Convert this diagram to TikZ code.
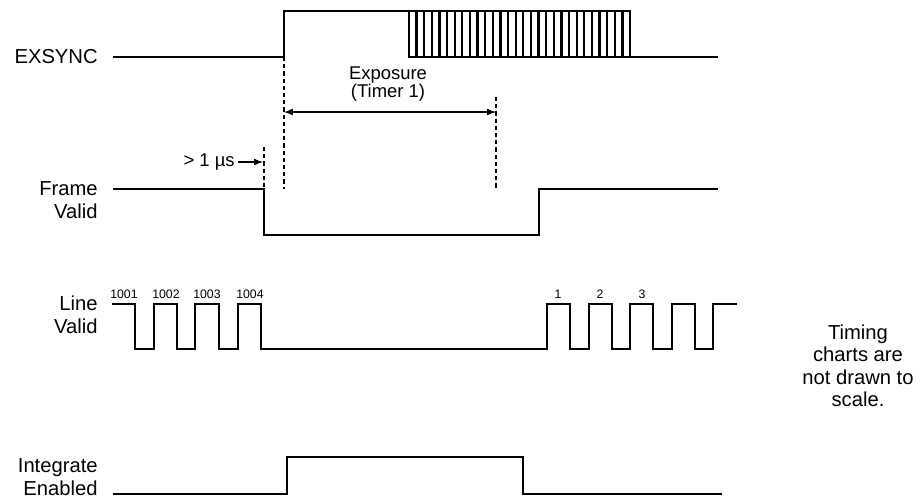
\documentclass[tikz,border=0pt]{standalone}
\usepackage{fontspec}
\setmainfont{Liberation Sans}
\usepackage{tikz}
\usetikzlibrary{arrows.meta, positioning, calc}

\begin{document}
\begin{tikzpicture}[
    x=0.02cm, y=-0.02cm,
    every node/.style={font=\fontsize{11.5}{12.8}\selectfont, inner sep=0pt},
    sig/.style={line width=1.3pt, line join=miter},
    guide/.style={line width=0.6pt, dash pattern=on 2.4pt off 1.7pt},
    dim/.style={line width=0.6pt, -{Latex[length=5pt, width=3.8pt]}},
    dimboth/.style={line width=0.6pt, {Latex[length=5pt, width=3.8pt]}-{Latex[length=5pt, width=3.8pt]}},
    siglabel/.style={anchor=east, align=right},
    pulsenum/.style={font=\fontsize{7}{8}\selectfont, anchor=south},
    note/.style={font=\fontsize{10.5}{9.8}\selectfont, align=center}
]
\useasboundingbox (0,0) rectangle (920,498);

% Signal names
\node[siglabel] (exsync) at (98,57) {EXSYNC};
\node[siglabel] (fval) at (98,200) {Frame\\Valid};
\node[siglabel] (lval) at (98,315) {Line\\Valid};
\node[siglabel] (inten) at (98,477) {Integrate\\Enabled};
\node[align=center] (scale) at (858,366) {Timing\\charts are\\not drawn to\\scale.};

% EXSYNC
\draw[sig] (113,57) -- (284,57) -- (284,11) -- (630,11) -- (630,57) -- (718,57);
\draw[sig] (409,11) -- (409,57) -- (630,57);
\foreach \i in {1,...,28}
    \draw[sig] ({409+\i*221/29},11) -- ++(0,46);

% Frame Valid
\draw[sig] (113,189) -- (264,189) -- (264,235) -- (539,235) -- (539,189) -- (718,189);

% Line Valid
\draw[sig] (112,304) -- (135,304) -- (135,349) -- (154,349) -- (154,304) -- (177,304)
    -- (177,349) -- (195,349) -- (195,304) -- (219,304) -- (219,349) -- (238,349)
    -- (238,304) -- (261,304) -- (261,349) -- (547,349) -- (547,304) -- (570,304)
    -- (570,349) -- (589,349) -- (589,304) -- (612,304) -- (612,349) -- (630,349)
    -- (630,304) -- (653,304) -- (653,349) -- (672,349) -- (672,304) -- (695,304)
    -- (695,349) -- (713,349) -- (713,304) -- (737,304);
\foreach \x/\t in {124/1001, 166/1002, 207/1003, 250/1004, 558/1, 600/2, 642/3}
    \node[pulsenum] (n\t) at (\x,299) {\t};

% Integrate Enabled
\draw[sig] (113,494) -- (287,494) -- (287,457) -- (523,457) -- (523,494) -- (722,494);

% Timing marks
\coordinate (exA) at (284,57);
\coordinate (exB) at (284,189);
\coordinate (fvA) at (264,147);
\coordinate (fvB) at (264,189);
\coordinate (enA) at (496,97);
\coordinate (enB) at (496,189);
\draw[guide] (exA) -- (exB);
\draw[guide] (fvA) -- (fvB);
\draw[guide] (enA) -- (enB);

\coordinate (expL) at (284,112);
\coordinate (expR) at (496,112);
\draw[dimboth] (expL) -- (expR);
\node[note] (expo) at (388,84) {Exposure\\(Timer 1)};

\node[note, anchor=east] (gap) at (235,162) {> 1 µs};
\coordinate (gapR) at (263,162);
\draw[dim] (gap.east) ++(3,0) -- (gapR);
\end{tikzpicture}
\end{document}
